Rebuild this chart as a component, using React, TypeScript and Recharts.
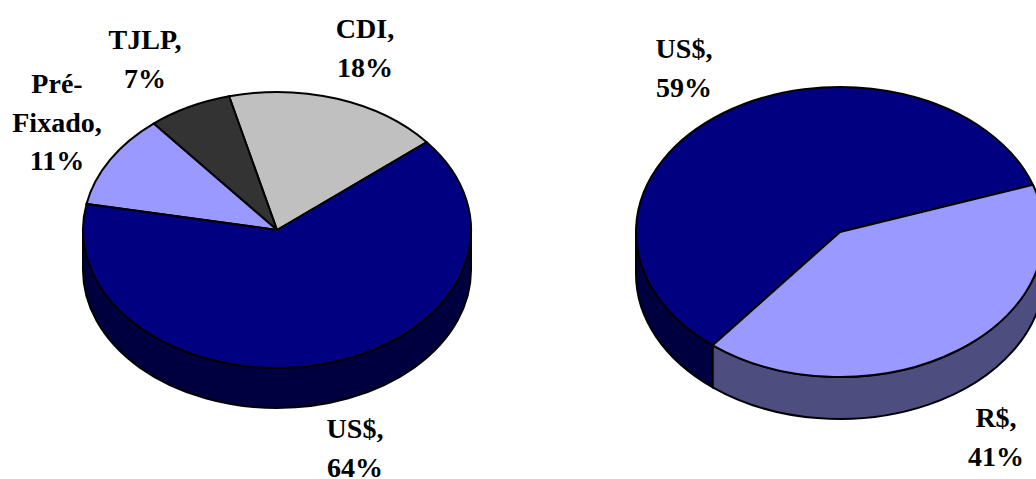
import { Pie, PieChart, Sector } from "recharts";

const debtNames = ["CDI", "TJLP", "Pré-Fixado", "US$"];
const debtValues = [18, 7, 11, 64];
const debtColors = ["#c0c0c0", "#333333", "#9999ff", "#000080"];
const debtSideColors = ["#606060", "#1a1a1a", "#4d4d80", "#000040"];

const currencyNames = ["US$", "R$"];
const currencyValues = [59, 41];
const currencyColors = ["#000080", "#9999ff"];
const currencySideColors = ["#000040", "#4d4d80"];

const debtData = debtNames.map((name, i) => ({ name, value: debtValues[i] }));
const currencyData = currencyNames.map((name, i) => ({
  name,
  value: currencyValues[i],
}));

// text lines and anchor of each label, by pie and slice name
const labelSpots: Record<string, { x: number; y: number; lines?: string[] }> = {
  "debt:CDI": { x: 365, y: 38 },
  "debt:TJLP": { x: 145, y: 49 },
  "debt:Pré-Fixado": { x: 57, y: 93, lines: ["Pré-", "Fixado,"] },
  "debt:US$": { x: 355, y: 438 },
  "currency:US$": { x: 684, y: 58 },
  "currency:R$": { x: 996, y: 427 },
};

const LINE_HEIGHT = 38.5;
const TILT_DEBT = 138 / 194;
const TILT_CURRENCY = 145 / 204;

function TopSlice(props: any, tilt: number) {
  const { cx, cy } = props;
  return (
    <g transform={`translate(${cx} ${cy}) scale(1 ${tilt}) translate(${-cx} ${-cy})`}>
      <Sector
        cx={cx}
        cy={cy}
        innerRadius={0}
        outerRadius={props.outerRadius}
        startAngle={props.startAngle}
        endAngle={props.endAngle}
        fill={props.fill}
        stroke="#000"
        strokeWidth={2}
        vectorEffect="non-scaling-stroke"
      />
    </g>
  );
}

// side wall of a slice: only the part of the rim facing the viewer (180..360 deg)
function SideWall(props: any, tilt: number, depth: number) {
  const { cx, cy, outerRadius: r } = props;
  const lo = Math.min(props.startAngle, props.endAngle);
  const hi = Math.max(props.startAngle, props.endAngle);
  const from = Math.max(lo, 180);
  const to = Math.min(hi, 360);
  if (from >= to) return <g />;

  const at = (deg: number, dy: number) => {
    const a = (deg * Math.PI) / 180;
    return `${cx + r * Math.cos(a)} ${cy - r * tilt * Math.sin(a) + dy}`;
  };
  const ry = r * tilt;
  const d = [
    `M ${at(from, 0)}`,
    `A ${r} ${ry} 0 0 0 ${at(to, 0)}`,
    `L ${at(to, depth)}`,
    `A ${r} ${ry} 0 0 1 ${at(from, depth)}`,
    "Z",
  ].join(" ");
  return <path d={d} fill={props.fill} stroke="#000" strokeWidth={2} />;
}

function sliceLabel(props: any, pie: string) {
  const spot = labelSpots[`${pie}:${props.name}`];
  if (!spot) return <g />;
  const lines = [...(spot.lines ?? [`${props.name},`]), `${props.value}%`];
  return (
    <text
      key={props.name}
      x={spot.x}
      y={spot.y}
      fill="#000"
      textAnchor="middle"
      fontFamily="Liberation Serif"
      fontWeight="bold"
      fontSize={28}
    >
      {lines.map((line, i) => (
        <tspan key={line} x={spot.x} y={spot.y + i * LINE_HEIGHT}>
          {line}
        </tspan>
      ))}
    </text>
  );
}

function withColors<T>(rows: T[], colors: string[]) {
  return rows.map((row, i) => ({ ...row, fill: colors[i] }));
}

export default function App() {
  return (
    <div style={{ position: "absolute", left: 0, top: 0, width: 1036, height: 479, background: "#fff" }}>
      <PieChart width={1036} height={479} margin={{ top: 0, right: 0, bottom: 0, left: 0 }}>
        <Pie
          data={withColors(debtData, debtSideColors)}
          dataKey="value"
          nameKey="name"
          cx={277}
          cy={230}
          outerRadius={194}
          startAngle={39.5}
          endAngle={399.5}
          isAnimationActive={false}
          shape={(p: any) => SideWall(p, TILT_DEBT, 40)}
        />
        <Pie
          data={withColors(debtData, debtColors)}
          dataKey="value"
          nameKey="name"
          cx={277}
          cy={230}
          outerRadius={194}
          startAngle={39.5}
          endAngle={399.5}
          isAnimationActive={false}
          labelLine={false}
          label={(p: any) => sliceLabel(p, "debt")}
          shape={(p: any) => TopSlice(p, TILT_DEBT)}
        />
        <Pie
          data={withColors(currencyData, currencySideColors)}
          dataKey="value"
          nameKey="name"
          cx={840}
          cy={232}
          outerRadius={204}
          startAngle={19}
          endAngle={379}
          isAnimationActive={false}
          shape={(p: any) => SideWall(p, TILT_CURRENCY, 42)}
        />
        <Pie
          data={withColors(currencyData, currencyColors)}
          dataKey="value"
          nameKey="name"
          cx={840}
          cy={232}
          outerRadius={204}
          startAngle={19}
          endAngle={379}
          isAnimationActive={false}
          labelLine={false}
          label={(p: any) => sliceLabel(p, "currency")}
          shape={(p: any) => TopSlice(p, TILT_CURRENCY)}
        />
      </PieChart>
    </div>
  );
}
